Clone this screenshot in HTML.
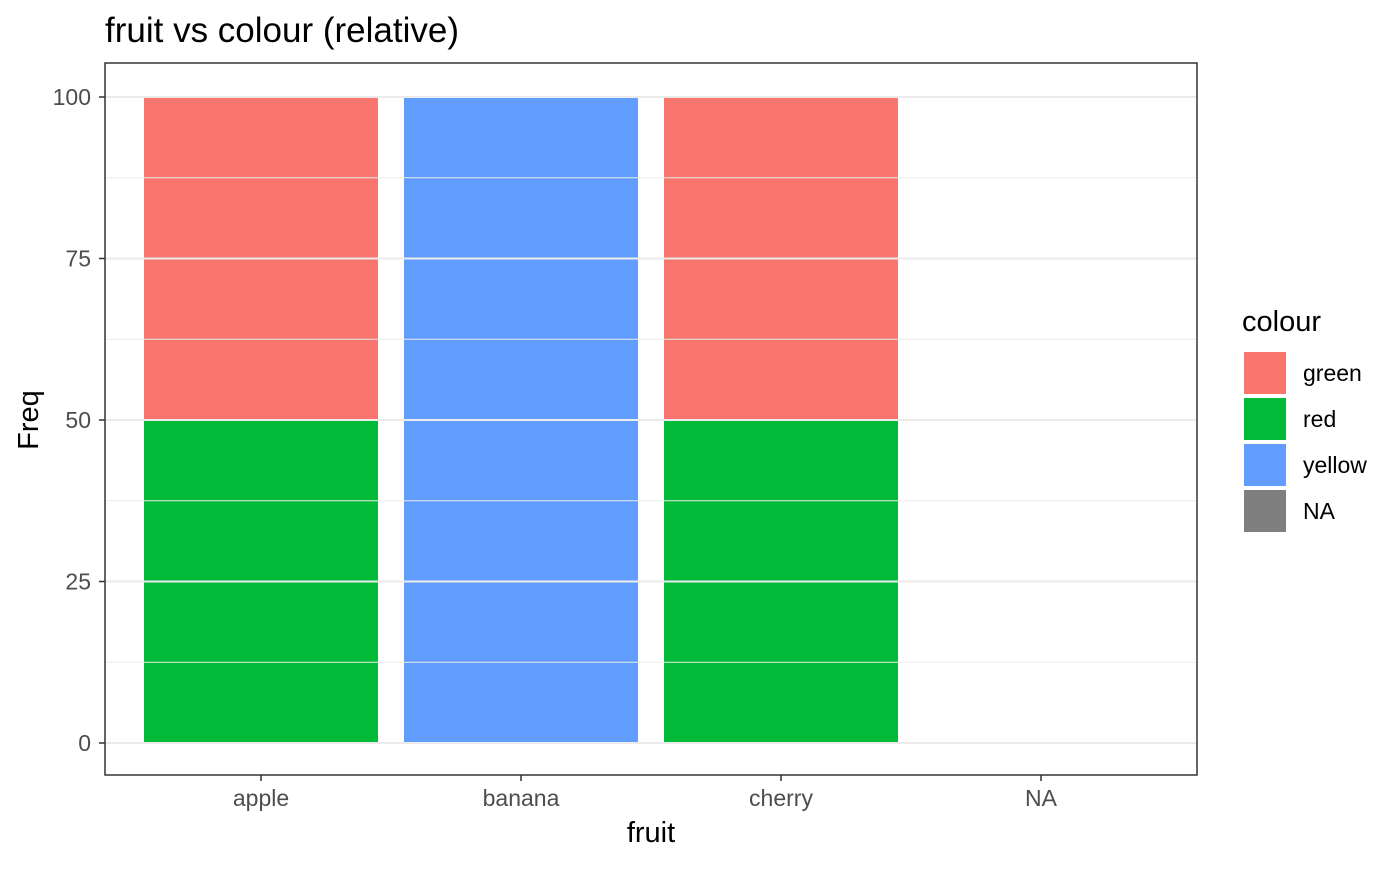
<!DOCTYPE html>
<html><head><meta charset="utf-8"><style>
body{margin:0;background:#fff;font-family:"Liberation Sans",sans-serif;}
</style></head><body>
<svg width="1400" height="866" xmlns="http://www.w3.org/2000/svg" font-family="Liberation Sans, sans-serif">
<text x="105" y="42" font-size="35" fill="#000">fruit vs colour (relative)</text>
<g id="plot"></g>
<rect x="105" y="63" width="1092" height="712" fill="none" stroke="#333" stroke-width="1.5"/>
<text x="651" y="842" font-size="29" text-anchor="middle">fruit</text>
<text transform="translate(38,420) rotate(-90)" font-size="29" text-anchor="middle">Freq</text>
<g>
<text x="1242" y="331" font-size="29">colour</text>
<g id="legend"></g>
</g>
</svg>
<script>
const categories=["apple","banana","cherry","NA"];
const seriesNames=["green","red","yellow","NA"];
const seriesColors=["#F8766D","#00BA38","#619CFF","#7F7F7F"];
const green=[50,0,50,0];
const red=[50,0,50,0];
const yellow=[0,100,0,0];
const naVals=[0,0,0,0];
const yTicks=[0,25,50,75,100];
const NS="http://www.w3.org/2000/svg";
const plot=document.getElementById('plot');
const x0=105,x1=1197,n=categories.length;
const step=(x1-x0)/(n+0.2);
const xc=i=>x0+step*(0.6+i);
const y=v=>743-v*6.46;
function mk(t,a){const e=document.createElementNS(NS,t);for(const k in a)e.setAttribute(k,a[k]);return e;}
const order=[3,2,1,0];
const vals=[green,red,yellow,naVals];
categories.forEach((c,i)=>{
  let base=0;
  order.forEach(s=>{const v=vals[s][i];if(v>0){
    const r=mk('rect',{x:xc(i)-step*0.45,y:y(base+v),width:step*0.9,height:y(base)-y(base+v),fill:seriesColors[s]});
    
    
    plot.appendChild(r);}
    base+=v;});
});
for(let k=0;k<yTicks.length-1;k++){const m=(yTicks[k]+yTicks[k+1])/2;
  const l=mk('line',{x1:x0,x2:x1,y1:y(m),y2:y(m),stroke:'#ebebeb','stroke-width':1});
  
  
  plot.appendChild(l);}
yTicks.forEach(t=>{
  const l=mk('line',{x1:x0,x2:x1,y1:y(t),y2:y(t),stroke:'#ebebeb','stroke-width':2});
  
  
  plot.appendChild(l);
  const tk=mk('line',{x1:x0-6,x2:x0,y1:y(t),y2:y(t),stroke:'#333','stroke-width':1.5});
  
  
  plot.appendChild(tk);
  const tx=mk('text',{x:x0-14,y:y(t)+8,'font-size':23,fill:'#4d4d4d','text-anchor':'end'});
  tx.textContent=t;
  
  
  plot.appendChild(tx);
});
categories.forEach((c,i)=>{
  const tk=mk('line',{x1:xc(i),x2:xc(i),y1:775,y2:781,stroke:'#333','stroke-width':1.5});
  
  
  plot.appendChild(tk);
  const tx=mk('text',{x:xc(i),y:806,'font-size':23,fill:'#4d4d4d','text-anchor':'middle'});
  tx.textContent=c;
  
  
  plot.appendChild(tx);
});
const lg=document.getElementById('legend');
seriesNames.forEach((s,i)=>{
  const r=mk('rect',{x:1244,y:352+i*46,width:42,height:42,fill:seriesColors[i]});
  
  
  lg.appendChild(r);
  const t=mk('text',{x:1303,y:381+i*46,'font-size':23,fill:'#000'});
  t.textContent=s;
  
  
  lg.appendChild(t);
});
</script>
</body></html>
